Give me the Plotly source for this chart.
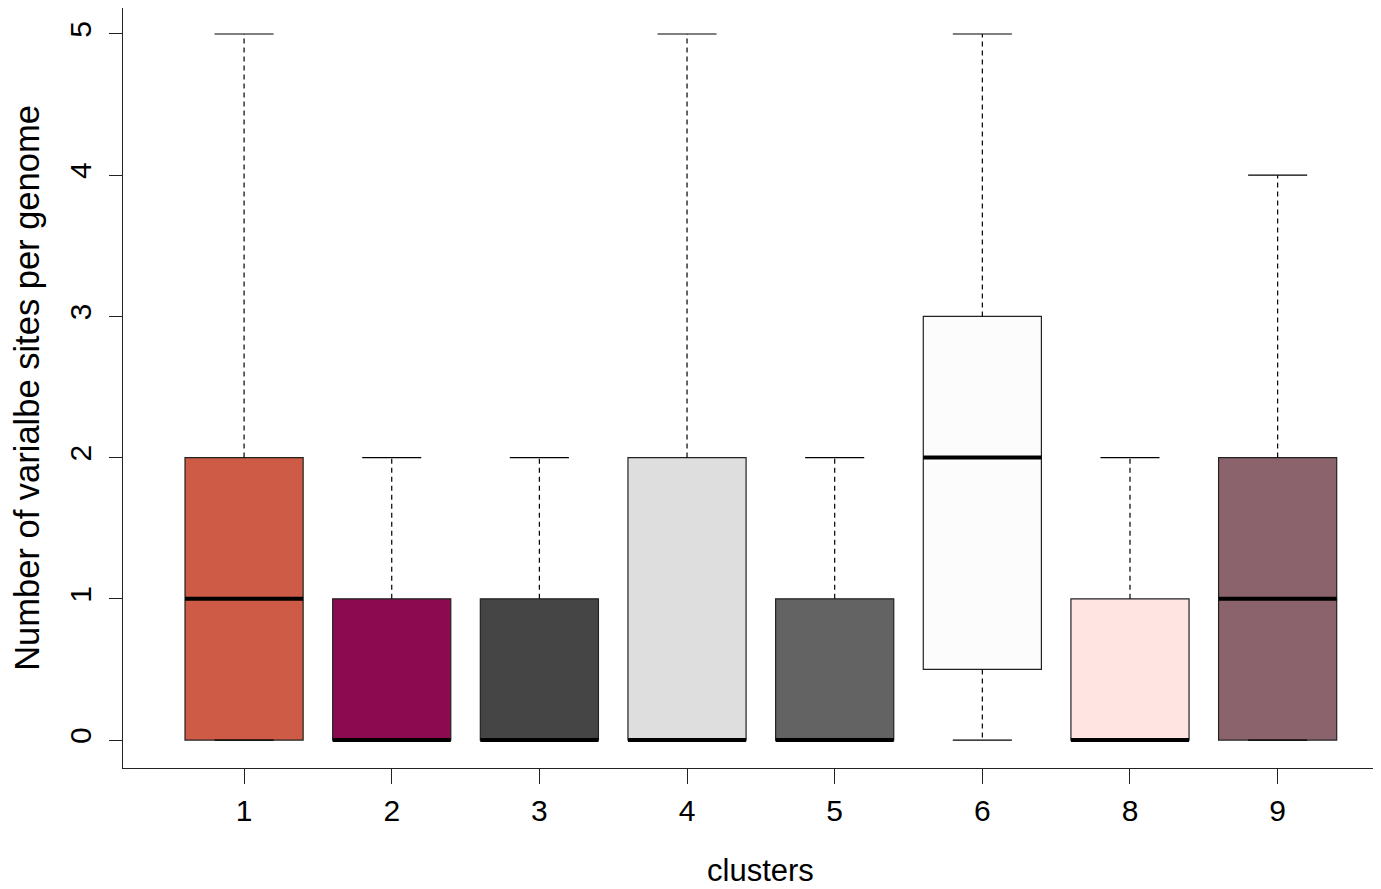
import plotly.graph_objects as go

clusters = ["1", "2", "3", "4", "5", "6", "8", "9"]
lower = [0, 0, 0, 0, 0, 0, 0, 0]
q1 = [0, 0, 0, 0, 0, 0.5, 0, 0]
median = [1, 0, 0, 0, 0, 2, 0, 1]
q3 = [2, 1, 1, 2, 1, 3, 1, 2]
upper = [5, 2, 2, 5, 2, 5, 2, 4]
colors = ["#CD5B45", "#8B0A50", "#454545", "#DEDEDE", "#636363", "#FCFCFC", "#FFE4E1", "#8B636C"]

pos = list(range(1, len(clusters) + 1))
box_w = 0.8
cap_w = 0.4

fig = go.Figure()
for i, p in enumerate(pos):
    fig.add_trace(go.Box(
        x=[p], q1=[q1[i]], median=[median[i]], q3=[q3[i]],
        lowerfence=[q1[i]], upperfence=[q3[i]],
        width=box_w, fillcolor=colors[i],
        line=dict(color="#222222", width=1.2),
        whiskerwidth=0, boxpoints=False, showlegend=False, hoverinfo="skip",
    ))

wx, wy, cx, cy, mx, my = [], [], [], [], [], []
for i, p in enumerate(pos):
    wx += [p, p, None, p, p, None]
    wy += [q3[i], upper[i], None, q1[i], lower[i], None]
    cx += [p - cap_w / 2, p + cap_w / 2, None, p - cap_w / 2, p + cap_w / 2, None]
    cy += [upper[i], upper[i], None, lower[i], lower[i], None]
    mx += [p - box_w / 2, p + box_w / 2, None]
    my += [median[i], median[i], None]

fig.add_trace(go.Scatter(x=wx, y=wy, mode="lines", line=dict(color="black", width=1.2, dash="5px,4px"),
                         showlegend=False, hoverinfo="skip"))
fig.add_trace(go.Scatter(x=cx, y=cy, mode="lines", line=dict(color="black", width=1.2),
                         showlegend=False, hoverinfo="skip"))
fig.add_trace(go.Scatter(x=mx, y=my, mode="lines", line=dict(color="black", width=4),
                         showlegend=False, hoverinfo="skip"))

font = "Liberation Sans, Arial, Helvetica, sans-serif"
fig.update_layout(
    width=1373, height=881,
    margin=dict(l=115, r=0, t=0, b=121),
    paper_bgcolor="white", plot_bgcolor="white",
    font=dict(family=font, color="black", size=30),
    xaxis=dict(
        range=[0.18, 8.70], tickmode="array", tickvals=pos, ticktext=clusters,
        showline=True, linecolor="#222222", linewidth=1.2, mirror=True,
        ticks="outside", ticklen=15, tickwidth=1.2, tickcolor="#222222",
        showgrid=False, zeroline=False,
        tickfont=dict(size=30), ticklabelstandoff=1,
    ),
    yaxis=dict(
        range=[-0.198, 5.184], tickmode="array", tickvals=[0, 1, 2, 3, 4, 5],
        showline=True, linecolor="#222222", linewidth=1.2,
        ticks="outside", ticklen=13, tickwidth=1.2, tickcolor="#222222",
        showgrid=False, zeroline=False, tickangle=-90,
        tickfont=dict(size=30), ticklabelstandoff=6,
        title=dict(text="Number of varialbe sites per genome", font=dict(size=34.5), standoff=15),
    ),
    annotations=[dict(
        text="clusters", xref="paper", yref="paper", x=0.507, y=0,
        xanchor="center", yanchor="middle", yshift=-102, showarrow=False,
        font=dict(size=31, family=font, color="black"),
    )],
)
fig.write_html("out.html")
